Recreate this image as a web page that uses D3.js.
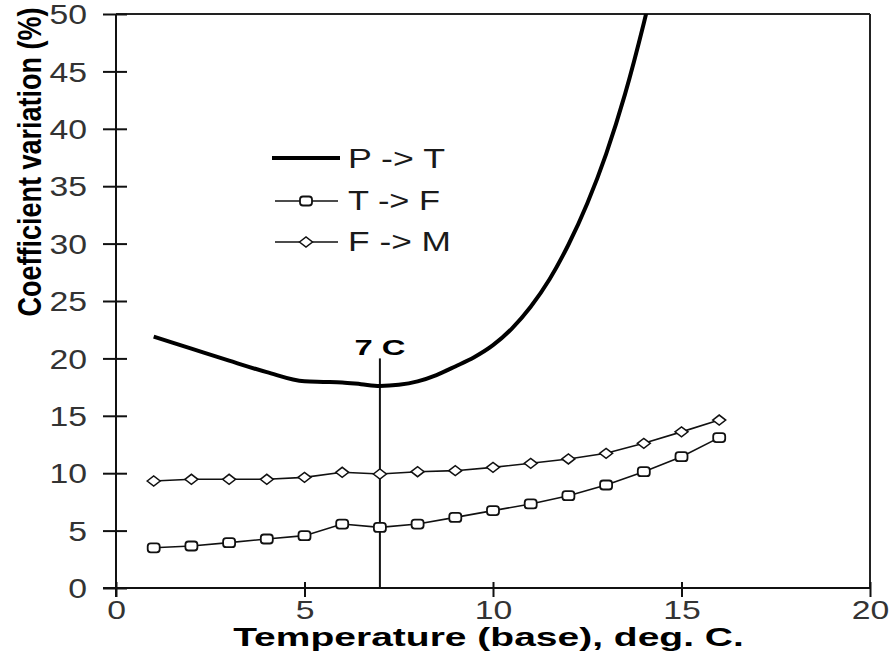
<!DOCTYPE html>
<html>
<head>
<meta charset="utf-8">
<script src="https://cdn.jsdelivr.net/npm/d3@7"></script>
<style>
  html, body { margin: 0; padding: 0; background: #ffffff; }
  svg { display: block; }
  text { font-family: "Liberation Sans", Arial, sans-serif; }
</style>
</head>
<body>
<svg id="chart" width="893" height="661"></svg>
<script>
// ---- data ----
const xTickValues = [0, 5, 10, 15, 20];
const yTickValues = [0, 5, 10, 15, 20, 25, 30, 35, 40, 45, 50];

const ptTemps  = [1, 2, 3, 4, 5, 5.5, 6, 6.5, 7, 7.5, 8, 8.5, 9, 9.5, 10, 10.5, 11, 11.5, 12, 12.5, 13, 13.5, 14, 14.5];
const ptValues = [21.9, 20.85, 19.8, 18.8, 18.0, 17.95, 17.9, 17.75, 17.6, 17.7, 18.0, 18.55, 19.3, 20.1, 21.15, 22.6, 24.5, 26.9, 29.9, 33.5, 37.8, 43.0, 49.2, 56.2];

const temps    = [1, 2, 3, 4, 5, 6, 7, 8, 9, 10, 11, 12, 13, 14, 15, 16];
const tfValues = [3.5, 3.66, 3.95, 4.27, 4.56, 5.57, 5.28, 5.57, 6.15, 6.74, 7.32, 8.04, 8.97, 10.13, 11.44, 13.1];
const fmValues = [9.32, 9.47, 9.47, 9.47, 9.64, 10.08, 9.93, 10.13, 10.22, 10.51, 10.86, 11.24, 11.73, 12.6, 13.6, 14.63];

const seriesNames = ["P -> T", "T -> F", "F -> M"];
const markerTemp = 7;
const markerTop = 20;
const markerLabel = "7 C";
const xTitle = "Temperature (base), deg. C.";
const yTitle = "Coefficient variation (%)";

// ---- layout ----
const svg = d3.select("#chart");
const x = d3.scaleLinear().domain([0, 20]).range([116, 870]);
const y = d3.scaleLinear().domain([0, 50]).range([588, 14]);

function stretch(sel, sx) {
  sel.each(function () {
    const l = this.getComputedTextLength();
    d3.select(this).attr("textLength", l * sx).attr("lengthAdjust", "spacingAndGlyphs");
  });
}

// clip
svg.append("clipPath").attr("id", "plotclip")
  .append("rect").attr("x", x(0)).attr("y", y(50)).attr("width", x(20) - x(0)).attr("height", y(0) - y(50));

// frame (top and right)
svg.append("line").attr("x1", x(0)).attr("x2", x(20)).attr("y1", y(50)).attr("y2", y(50))
  .attr("stroke", "#222").attr("stroke-width", 2);
svg.append("line").attr("x1", x(20)).attr("x2", x(20)).attr("y1", y(50)).attr("y2", y(0))
  .attr("stroke", "#222").attr("stroke-width", 2);

// y axis
const yAxis = svg.append("g").attr("transform", `translate(${x(0)},0)`)
  .call(d3.axisLeft(y).tickValues(yTickValues).tickSize(13).tickPadding(16).tickFormat(d3.format("d")));
yAxis.select(".domain").attr("stroke", "#111").attr("stroke-width", 2)
  .attr("d", `M0,${y(50)}V${y(0) + 9}`);
yAxis.selectAll(".tick line").attr("x1", 11).attr("x2", -13).attr("stroke", "#111").attr("stroke-width", 2);
yAxis.selectAll(".tick text").attr("font-size", 27).attr("fill", "#333")
  .attr("font-family", "Liberation Sans, Arial, sans-serif").attr("dy", "0.36em");
stretch(yAxis.selectAll(".tick text"), 1.25);

// x axis
const xAxis = svg.append("g").attr("transform", `translate(0,${y(0)})`)
  .call(d3.axisBottom(x).tickValues(xTickValues).tickSize(9).tickPadding(4).tickFormat(d3.format("d")));
xAxis.select(".domain").attr("stroke", "#111").attr("stroke-width", 2)
  .attr("d", `M${x(0) - 13},0H${x(20)}`);
xAxis.selectAll(".tick line").attr("y1", -6).attr("y2", 9).attr("stroke", "#111").attr("stroke-width", 2);
xAxis.selectAll(".tick text").attr("font-size", 25).attr("fill", "#333")
  .attr("font-family", "Liberation Sans, Arial, sans-serif").attr("dy", "0.71em");
stretch(xAxis.selectAll(".tick text"), 1.35);

// axis titles
svg.append("text").attr("transform", "translate(488.5,646) scale(1.56,1)").attr("text-anchor", "middle")
  .attr("font-size", 25).attr("font-weight", "bold").attr("fill", "#000").text(xTitle);
svg.append("text").attr("transform", "translate(41,162) rotate(-90) scale(1,1.25)").attr("text-anchor", "middle")
  .attr("font-size", 27).attr("font-weight", "bold").attr("fill", "#000").text(yTitle);

// 7 C marker line
svg.append("line").attr("x1", x(markerTemp)).attr("x2", x(markerTemp))
  .attr("y1", y(markerTop)).attr("y2", y(0)).attr("stroke", "#111").attr("stroke-width", 2);
svg.append("text").attr("x", x(markerTemp)).attr("y", 355).attr("text-anchor", "middle")
  .attr("font-size", 22).attr("font-weight", "bold").attr("fill", "#000")
  .attr("textLength", 51).attr("lengthAdjust", "spacingAndGlyphs").text(markerLabel);

// P -> T curve
const ptData = ptTemps.map((t, i) => [t, ptValues[i]]);
svg.append("path").datum(ptData).attr("clip-path", "url(#plotclip)")
  .attr("fill", "none").attr("stroke", "#000").attr("stroke-width", 4).attr("stroke-linejoin", "round")
  .attr("d", d3.line().x(d => x(d[0])).y(d => y(d[1])).curve(d3.curveMonotoneX));

// T -> F and F -> M
const lineGen = d3.line().x(d => x(d[0])).y(d => y(d[1]));
const tfData = temps.map((t, i) => [t, tfValues[i]]);
const fmData = temps.map((t, i) => [t, fmValues[i]]);

svg.append("path").datum(tfData).attr("fill", "none").attr("stroke", "#111").attr("stroke-width", 1.6).attr("d", lineGen);
svg.append("path").datum(fmData).attr("fill", "none").attr("stroke", "#111").attr("stroke-width", 1.6).attr("d", lineGen);

function squareAt(g, cx, cy) {
  g.append("rect").attr("x", cx - 6).attr("y", cy - 4.5).attr("width", 12).attr("height", 9)
    .attr("rx", 3).attr("fill", "#fff").attr("stroke", "#111").attr("stroke-width", 1.8);
}
function diamondAt(g, cx, cy) {
  g.append("path").attr("d", `M${cx - 6.5},${cy}L${cx},${cy - 5}L${cx + 6.5},${cy}L${cx},${cy + 5}Z`)
    .attr("fill", "#fff").attr("stroke", "#111").attr("stroke-width", 1.5);
}
const markG = svg.append("g");
tfData.forEach(d => squareAt(markG, x(d[0]), y(d[1])));
fmData.forEach(d => diamondAt(markG, x(d[0]), y(d[1])));

// legend
const leg = svg.append("g");
const legRows = [
  { name: seriesNames[0], ly: 158, ty: 168, w: 97, type: "thick" },
  { name: seriesNames[1], ly: 201, ty: 210, w: 92, type: "square" },
  { name: seriesNames[2], ly: 242, ty: 251, w: 103, type: "diamond" }
];
legRows.forEach(r => {
  if (r.type === "thick") {
    leg.append("line").attr("x1", 272).attr("x2", 340).attr("y1", r.ly).attr("y2", r.ly)
      .attr("stroke", "#000").attr("stroke-width", 4);
  } else {
    leg.append("line").attr("x1", 275).attr("x2", 338).attr("y1", r.ly).attr("y2", r.ly)
      .attr("stroke", "#111").attr("stroke-width", 1.6);
    if (r.type === "square") squareAt(leg, 306, r.ly); else diamondAt(leg, 306, r.ly);
  }
  leg.append("text").attr("x", 348).attr("y", r.ty).attr("font-size", 28).attr("fill", "#1a1a1a")
    .attr("textLength", r.w).attr("lengthAdjust", "spacingAndGlyphs").text(r.name);
});
</script>
</body>
</html>
